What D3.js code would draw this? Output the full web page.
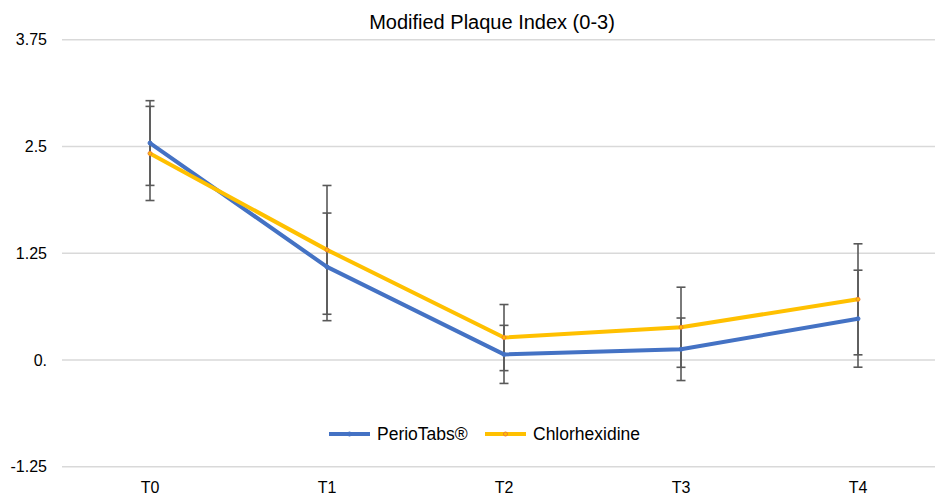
<!DOCTYPE html>
<html><head><meta charset="utf-8">
<script src="https://cdn.jsdelivr.net/npm/d3@7"></script>
<style>body{margin:0;background:#fff;}svg{display:block;font-family:"Liberation Sans",Arial,Helvetica,sans-serif;}</style>
</head><body><svg id="c" width="935" height="498"></svg>
<script>
const categories = ["T0","T1","T2","T3","T4"];
const perioValues = [2.54, 1.09, 0.065, 0.125, 0.483];
const perioErrors = [0.496, 0.63, 0.34, 0.366, 0.568];
const chlorValues = [2.418, 1.289, 0.262, 0.383, 0.71];
const chlorErrors = [0.551, 0.754, 0.387, 0.469, 0.65];
const yTicks = [-1.25, 0, 1.25, 2.5, 3.75];
const yTickLabels = ["-1.25", "0.", "1.25", "2.5", "3.75"];
const seriesNames = ["PerioTabs®", "Chlorhexidine"];

const svg = d3.select("#c");
const x = d3.scaleBand().domain(categories).range([61.5, 946.5]);
const y = d3.scaleLinear().domain([-1.25, 3.75]).range([466.7, 39.7]);
const cx = d => x(d) + x.bandwidth()/2;

// gridlines
svg.append("g").selectAll("line").data(yTicks).join("line")
  .attr("x1", 62).attr("x2", 935)
  .attr("y1", d => y(d)).attr("y2", d => y(d))
  .attr("stroke", "#d9d9d9").attr("stroke-width", 1.5);

// y axis labels
const yAxis = d3.axisLeft(y).tickValues(yTicks).tickSize(0).tickPadding(0)
  .tickFormat((d,i) => yTickLabels[i]);
const ya = svg.append("g").attr("transform", "translate(47,0)").call(yAxis);
ya.select(".domain").remove();
ya.selectAll("text").attr("font-size", 16).attr("fill", "#000")
  .attr("font-family", "'Liberation Sans',Arial,sans-serif");

// x axis labels
const xAxis = d3.axisBottom(x).tickSize(0).tickPadding(0);
const xa = svg.append("g").attr("transform", "translate(0,482)").call(xAxis);
xa.select(".domain").remove();
xa.selectAll("text").attr("font-size", 16).attr("fill", "#000")
  .attr("font-family", "'Liberation Sans',Arial,sans-serif");

// title
svg.append("text").attr("x", 492).attr("y", 29).attr("text-anchor", "middle")
  .attr("font-size", 20).attr("fill", "#000").text("Modified Plaque Index (0-3)");

const series = [
  {name: seriesNames[0], values: perioValues, errors: perioErrors, color: "#4472C4", marker: "#4472C4"},
  {name: seriesNames[1], values: chlorValues, errors: chlorErrors, color: "#FFC000", marker: "#ED7D31"}
];

// error bars
series.forEach(s => {
  const g = svg.append("g").attr("stroke", "#595959").attr("stroke-width", 1.6);
  categories.forEach((c, i) => {
    const top = y(s.values[i] + s.errors[i]), bot = y(s.values[i] - s.errors[i]);
    g.append("line").attr("x1", cx(c)).attr("x2", cx(c)).attr("y1", top).attr("y2", bot);
    g.append("line").attr("x1", cx(c)-4.5).attr("x2", cx(c)+4.5).attr("y1", top).attr("y2", top);
    g.append("line").attr("x1", cx(c)-4.5).attr("x2", cx(c)+4.5).attr("y1", bot).attr("y2", bot);
  });
});

// lines
const line = d3.line().x((d,i) => cx(categories[i])).y(d => y(d));
series.forEach(s => {
  svg.append("path").datum(s.values).attr("d", line).attr("fill", "none")
    .attr("stroke", s.color).attr("stroke-width", 4).attr("stroke-linejoin", "round");
  svg.append("g").selectAll("circle").data(s.values).join("circle")
    .attr("cx", (d,i) => cx(categories[i])).attr("cy", d => y(d)).attr("r", 2)
    .attr("fill", s.color).attr("stroke", s.marker).attr("stroke-width", 1);
});

// legend
const leg = [{x: 329, tx: 377}, {x: 485, tx: 533}];
series.forEach((s, i) => {
  const g = svg.append("g");
  g.append("line").attr("x1", leg[i].x).attr("x2", leg[i].x + 41).attr("y1", 434).attr("y2", 434)
    .attr("stroke", s.color).attr("stroke-width", 4);
  g.append("circle").attr("cx", leg[i].x + 20.5).attr("cy", 434).attr("r", 2)
    .attr("fill", s.color).attr("stroke", s.marker).attr("stroke-width", 1);
  g.append("text").attr("x", leg[i].tx).attr("y", 440).attr("font-size", 17.5).attr("fill", "#000").text(s.name);
});
</script></body></html>
